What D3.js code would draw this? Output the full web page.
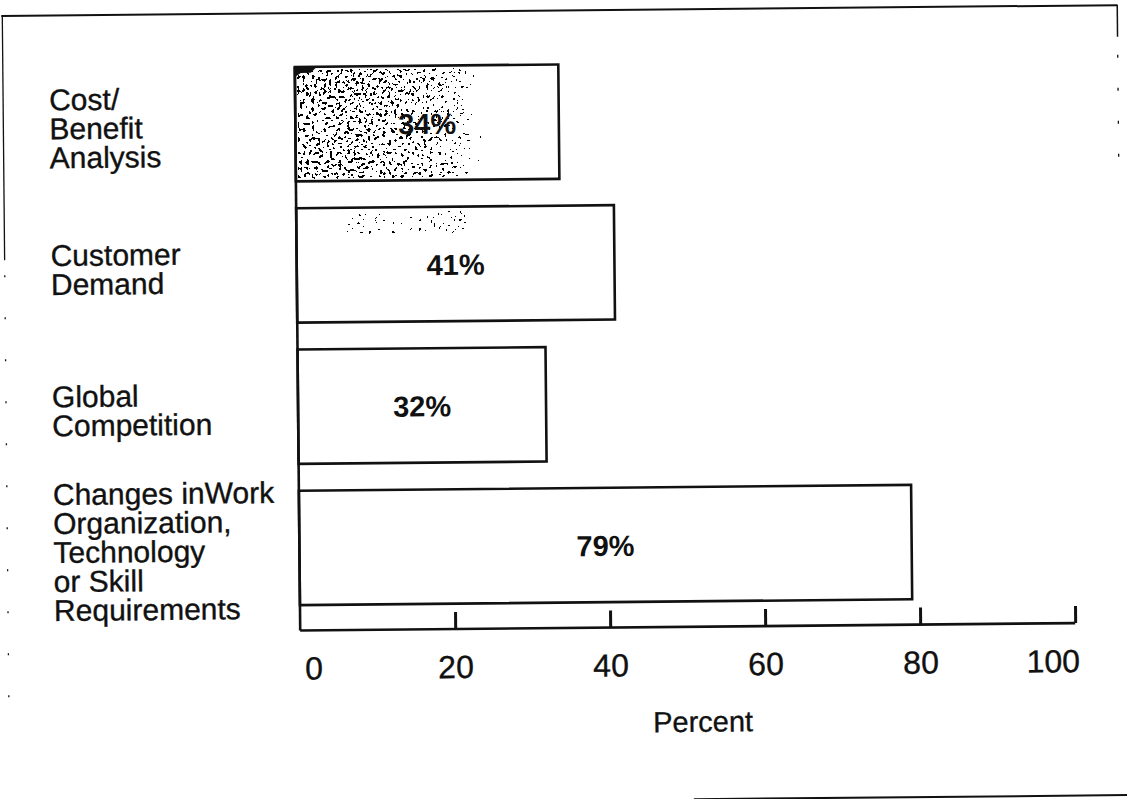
<!DOCTYPE html>
<html>
<head>
<meta charset="utf-8">
<script src="https://cdn.jsdelivr.net/npm/d3@7/dist/d3.min.js"></script>
<style>
  html, body { margin: 0; padding: 0; background: #fff; }
  svg { display: block; }
  text { font-family: "Liberation Sans", Arial, Helvetica, sans-serif; fill: #111; }
  .reg { stroke: #111; stroke-width: 0.35; }
</style>
</head>
<body>
<svg id="chart" width="1127" height="799"></svg>
<script>
// Reasons for training, share of respondents
const categories = [
  ["Cost/", "Benefit", "Analysis"],
  ["Customer", "Demand"],
  ["Global", "Competition"],
  ["Changes inWork", "Organization,", "Technology", "or Skill", "Requirements"]
];
const values = [34, 41, 32, 79];
const valueLabels = ["34%", "41%", "32%", "79%"];
const tickValues = [0, 20, 40, 60, 80, 100];
const axisTitle = "Percent";

const W = 1127, H = 799;
const ink = "#111";

const svg = d3.select("#chart");
const defs = svg.append("defs");

// Grainy stipple: noise is weighted by the source alpha, then thresholded to hard specks
const f = defs.append("filter").attr("id", "speckle")
  .attr("x", 0).attr("y", 0).attr("width", 1).attr("height", 1)
  .attr("color-interpolation-filters", "sRGB");
f.append("feTurbulence").attr("type", "fractalNoise").attr("baseFrequency", 0.34)
  .attr("numOctaves", 3).attr("seed", 5).attr("result", "noise");
f.append("feColorMatrix").attr("in", "noise").attr("type", "matrix")
  .attr("values", "0 0 0 0 0  0 0 0 0 0  0 0 0 0 0  1 0 0 0 0").attr("result", "na");
f.append("feComposite").attr("in", "na").attr("in2", "SourceGraphic")
  .attr("operator", "arithmetic").attr("k1", 1).attr("k2", 0).attr("k3", 0).attr("k4", 0)
  .attr("result", "weighted");
const thr = d3.range(50).map(i => (i < 29 ? 0 : 1)).join(" ");
f.append("feComponentTransfer").attr("in", "weighted")
  .append("feFuncA").attr("type", "discrete").attr("tableValues", thr);

const g1 = defs.append("linearGradient").attr("id", "fadeRight");
[[0, 1], [0.45, 0.97], [0.6, 0.88], [0.7, 0.76], [0.8, 0.62], [1, 0.5]].forEach(([o, a]) =>
  g1.append("stop").attr("offset", o).attr("stop-color", "#000").attr("stop-opacity", a));

// The whole sheet sits slightly tilted
const root = svg.append("g").attr("transform", `rotate(-0.55, ${W / 2}, ${H / 2})`);

// Page frame (partial, as on the printed sheet)
root.append("line").attr("x1", 5).attr("x2", 1121).attr("y1", 10.5).attr("y2", 10.5)
  .attr("stroke", ink).attr("stroke-width", 2);
root.append("line").attr("x1", 6).attr("x2", 6).attr("y1", 10).attr("y2", 255)
  .attr("stroke", ink).attr("stroke-width", 1.3);
root.append("line").attr("x1", 6).attr("x2", 6).attr("y1", 270).attr("y2", 720)
  .attr("stroke", ink).attr("stroke-width", 1.3).attr("stroke-dasharray", "2 40");
root.append("line").attr("x1", 1121).attr("x2", 1121).attr("y1", 10).attr("y2", 42)
  .attr("stroke", ink).attr("stroke-width", 1.5);
root.append("line").attr("x1", 1121).attr("x2", 1121).attr("y1", 60).attr("y2", 190)
  .attr("stroke", ink).attr("stroke-width", 1.3).attr("stroke-dasharray", "3 30");
root.append("line").attr("x1", 690).attr("x2", 1127).attr("y1", 800.5).attr("y2", 800.5)
  .attr("stroke", ink).attr("stroke-width", 2);

// Scales
const x = d3.scaleLinear().domain([0, 100]).range([298, 1073]);
const y = d3.scaleBand().domain(d3.range(categories.length))
  .range([51, 616]).paddingInner(0.19).paddingOuter(0.095);
const axisY = 628;

// Bars
root.append("g").selectAll("rect.bar").data(values).join("rect")
  .attr("class", "bar")
  .attr("x", x(0))
  .attr("y", (d, i) => y(i))
  .attr("width", d => x(d) - x(0))
  .attr("height", y.bandwidth())
  .attr("fill", "#fff")
  .attr("stroke", ink).attr("stroke-width", 2.6);

// Stipple on the first bar and a few specks on the second
root.append("rect")
  .attr("x", x(0) + 2).attr("y", y(0) + 2)
  .attr("width", x(values[0]) - x(0) - 4).attr("height", y.bandwidth() - 4)
  .attr("fill", "url(#fadeRight)")
  .attr("filter", "url(#speckle)");
root.append("path")
  .attr("d", `M${x(0)},${y(0)} h22 l-6,6 h-10 l-6,4 z`)
  .attr("fill", ink);
root.append("rect")
  .attr("x", x(0) + 50).attr("y", y(1) + 4)
  .attr("width", 120).attr("height", 26)
  .attr("fill", "#000").attr("fill-opacity", 0.84)
  .attr("filter", "url(#speckle)");

// Left vertical rule joining the bars to the axis
root.append("line")
  .attr("x1", x(0)).attr("x2", x(0))
  .attr("y1", y(0)).attr("y2", axisY)
  .attr("stroke", ink).attr("stroke-width", 2.6);

// Value labels
root.append("g").selectAll("text").data(values).join("text")
  .attr("x", d => (x(0) + x(d)) / 2)
  .attr("y", (d, i) => y(i) + y.bandwidth() / 2 + 11)
  .attr("text-anchor", "middle")
  .attr("font-size", 29).attr("font-weight", "bold")
  .text((d, i) => valueLabels[i]);

// Category labels
const fs = 30, lh = 29, cap = 0.716 * fs;
root.append("g").selectAll("text").data(categories).join("text")
  .attr("class", "reg")
  .attr("font-size", fs)
  .each(function (lines, i) {
    const c = y(i) + y.bandwidth() / 2 + 2;
    const first = c - ((lines.length - 1) * lh + cap) / 2 + cap;
    d3.select(this).selectAll("tspan").data(lines).join("tspan")
      .attr("x", 52)
      .attr("y", (t, k) => first + k * lh)
      .text(t => t);
  });

// Bottom axis: ticks point upward, labels below the rule
const axis = d3.axisBottom(x).tickValues(tickValues).tickSize(0).tickPadding(0)
  .tickFormat(d3.format("d"));
const ax = root.append("g").attr("transform", `translate(0,${axisY})`).call(axis);
ax.select(".domain").attr("stroke", ink).attr("stroke-width", 2.6).attr("d", `M${x(0)},0H${x(100)}`);
ax.selectAll(".tick line")
  .attr("y2", d => d === 0 ? 0 : -17)
  .attr("stroke", ink).attr("stroke-width", 3);
ax.selectAll(".tick text")
  .attr("class", "reg")
  .attr("y", 49).attr("dy", null)
  .attr("x", d => d === 0 ? 4 : d === 100 ? 4 : 0)
  .attr("text-anchor", d => d === 0 ? "start" : d === 100 ? "end" : "middle")
  .attr("font-size", 32)
  .attr("font-family", "'Liberation Sans', Arial, sans-serif")
  .attr("fill", ink);

// Axis title
root.append("text")
  .attr("class", "reg")
  .attr("x", 700).attr("y", 733)
  .attr("text-anchor", "middle")
  .attr("font-size", 29)
  .text(axisTitle);
</script>
</body>
</html>
